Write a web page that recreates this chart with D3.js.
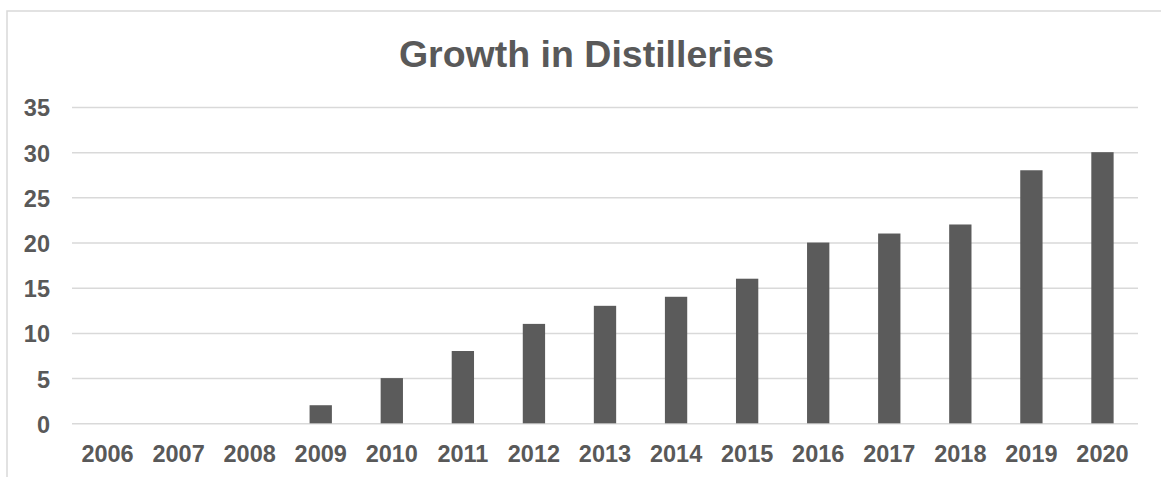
<!DOCTYPE html>
<html>
<head>
<meta charset="utf-8">
<script src="https://cdn.jsdelivr.net/npm/d3@7"></script>
<style>
  body { margin: 0; background: #fff; }
  text { font-family: "Liberation Sans", Arial, sans-serif; }
</style>
</head>
<body>
<svg id="chart" width="1161" height="477"></svg>
<script>
var years = ["2006","2007","2008","2009","2010","2011","2012","2013","2014","2015","2016","2017","2018","2019","2020"]
var distilleries = [0,0,0,2,5,8,11,13,14,16,20,21,22,28,30]
var yTicks = [0,5,10,15,20,25,30,35]
var title = "Growth in Distilleries"

var svg = d3.select("#chart")
var textColor = "#595959"
var gridColor = "#d9d9d9"

// chart frame (cut off at right and bottom like the picture)
svg.append("rect")
   .attr("x", 7)
   .attr("y", 11)
   .attr("width", 1200)
   .attr("height", 600)
   .attr("fill", "white")
   .attr("stroke", gridColor)
   .attr("stroke-width", 1.5)

var plot = {left: 72, right: 1138, top: 107, bottom: 423.3}

var x = d3.scaleBand()
          .domain(years)
          .range([plot.left, plot.right])
          .paddingInner(0.686)
          .paddingOuter(0.343)

var y = d3.scaleLinear()
          .domain([0, 35])
          .range([plot.bottom, plot.top])

// title
svg.append("text")
   .attr("x", 586.5)
   .attr("y", 66.5)
   .attr("text-anchor", "middle")
   .attr("font-size", "37.5px")
   .attr("font-weight", "bold")
   .attr("fill", textColor)
   .text(title)

// y axis + gridlines
var yAxis = svg.append("g")
               .attr("transform", "translate(" + plot.left + ",0)")
               .call(d3.axisLeft(y).tickValues(yTicks).tickSize(-(plot.right - plot.left)).tickPadding(22))
yAxis.select(".domain").remove()
yAxis.selectAll("line").attr("stroke", gridColor).attr("stroke-width", 1.5)
yAxis.selectAll("text")
     .attr("fill", textColor)
     .attr("font-size", "23.5px")
     .attr("font-weight", "bold")
     .attr("font-family", "Liberation Sans, Arial, sans-serif")
     .attr("dy", "0.38em")

// bars
svg.append("g").selectAll("rect").data(distilleries).enter()
   .append("rect")
   .attr("x", function(d, i) { return x(years[i]) })
   .attr("y", function(d) { return y(d) })
   .attr("width", x.bandwidth())
   .attr("height", function(d) { return y(0) - y(d) })
   .attr("fill", "#5b5b5b")

// x axis labels
var xAxis = svg.append("g")
               .attr("transform", "translate(0," + plot.bottom + ")")
               .call(d3.axisBottom(x).tickSize(0).tickPadding(22))
xAxis.select(".domain").remove()
xAxis.selectAll("text")
     .attr("fill", textColor)
     .attr("font-size", "23.5px")
     .attr("font-weight", "bold")
     .attr("font-family", "Liberation Sans, Arial, sans-serif")
     .attr("dy", "0.71em")
</script>
</body>
</html>
